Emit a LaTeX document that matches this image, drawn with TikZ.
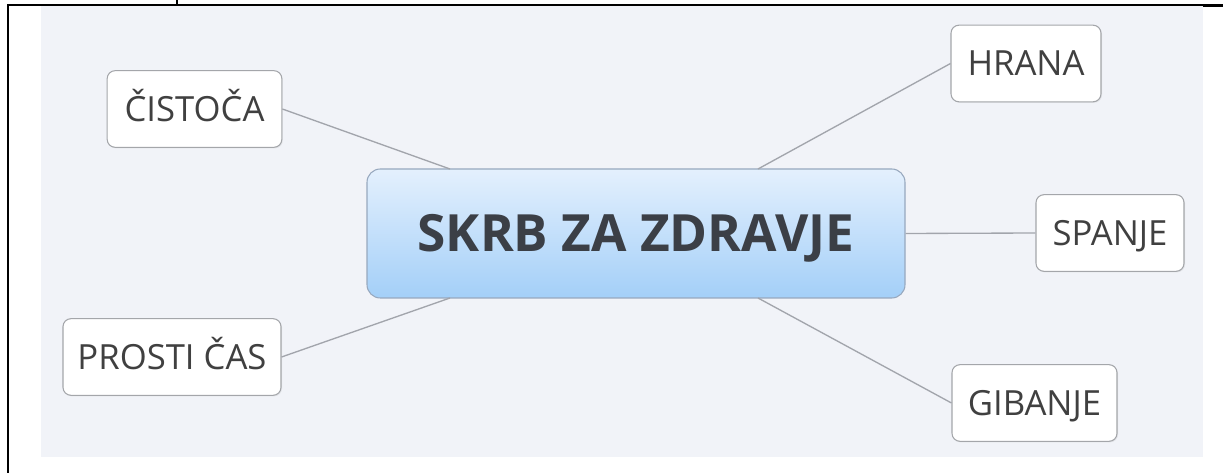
\documentclass[tikz,border=0pt]{standalone}
\usepackage{fontspec}
\setmainfont{Open Sans}
\usetikzlibrary{shadows}
\definecolor{bggrey}{HTML}{F1F3F8}
\definecolor{txtgrey}{HTML}{404040}
\definecolor{ctrtxt}{HTML}{3B3F46}
\definecolor{boxline}{HTML}{A4A6AA}
\definecolor{ctrline}{HTML}{97A8BE}
\definecolor{ctrtop}{HTML}{E4F0FD}
\definecolor{ctrbottom}{HTML}{A3CFF8}
\definecolor{linkgrey}{HTML}{A2A5AC}
\tikzset{
  topic/.style = {draw = boxline, fill = white, rounded corners = 6pt, line width = 0.8pt,
    inner sep = 0pt, minimum height = 57.5pt, text = txtgrey, font = \fontsize{26}{30}\selectfont,
    text height = 18.5pt, text depth = 0pt,
    drop shadow = {shadow xshift = 0.8pt, shadow yshift = -0.8pt, opacity = 0.12}},
  central/.style = {draw = ctrline, top color = ctrtop, bottom color = ctrbottom,
    rounded corners = 10pt, line width = 0.8pt, inner sep = 0pt,
    minimum width = 403.5pt, minimum height = 96.75pt, text = ctrtxt,
    font = \fontsize{38.5}{44}\selectfont\bfseries, text height = 27.5pt, text depth = 0pt},
  link/.style = {draw = linkgrey, line width = 1pt}
}
\begin{document}
\begin{tikzpicture}[x = 0.75pt, y = -0.75pt]
\useasboundingbox (0,0) rectangle (1223,473);
% table frame
\fill [bggrey] (41,6) rectangle (1203,457);
\draw [line width = 1.5pt] (7,5) -- (1223,5);
\draw [line width = 1.5pt] (7.5,5) -- (7.5,473);
\draw [line width = 1.5pt] (177,0) -- (177,5);
\draw [line width = 2.5pt] (1203,5.5) -- (1223,5.5);
% topics
\node[central] (ctr) at (636,233.5) {SKRB ZA ZDRAVJE};
\node[topic, minimum width = 131pt] (cis) at (194.5,109) {ČISTOČA};
\node[topic, minimum width = 163.5pt] (pro) at (172,357) {PROSTI ČAS};
\node[topic, minimum width = 112.5pt] (hra) at (1026,63.5) {HRANA};
\node[topic, minimum width = 111pt] (spa) at (1110,233) {SPANJE};
\node[topic, minimum width = 123.75pt] (gib) at (1034.5,403) {GIBANJE};
% branch ends on the central box
\coordinate (ct1) at (450,169);
\coordinate (ct2) at (758,169);
\coordinate (cb1) at (450,298);
\coordinate (cb2) at (758,298);
\draw [link] (cis.east) -- (ct1);
\draw [link] (hra.west) -- (ct2);
\draw [link] (ctr.east) -- (spa.west);
\draw [link] (gib.west) -- (cb2);
\draw [link] (pro.east) -- (cb1);
\end{tikzpicture}
\end{document}
